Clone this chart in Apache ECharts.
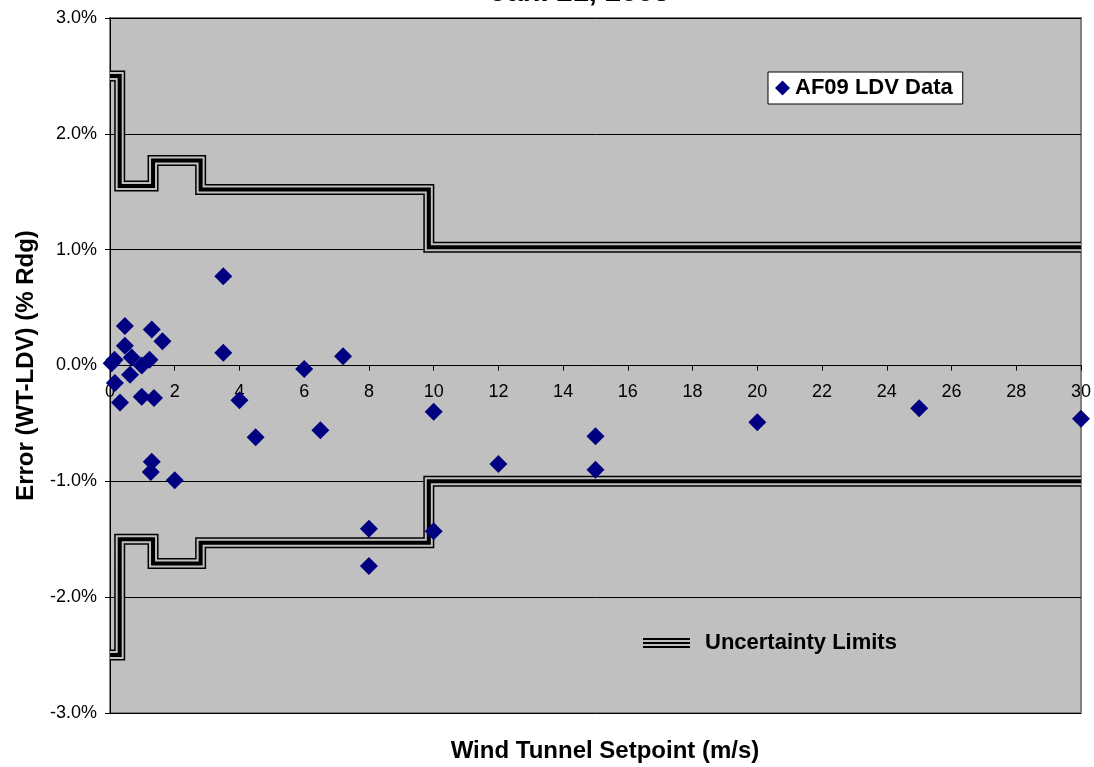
<!DOCTYPE html>
<html>
<head>
<meta charset="utf-8">
<script src="https://cdn.jsdelivr.net/npm/echarts@6/dist/echarts.min.js"></script>
<style>
  html, body { margin: 0; padding: 0; background: #fff; }
  #main { width: 1094px; height: 767px; }
</style>
</head>
<body>
<div id="main"></div>
<script>
// AF09 LDV data points: setpoint (m/s) and error (% reading)
var ldvX = [0.05, 0.14, 0.15, 0.31, 0.46, 0.46, 0.62, 0.67, 0.98, 0.98, 1.22, 1.29, 1.36, 1.62,
            1.29, 1.26, 2.0, 3.5, 3.5, 4.0, 4.5, 6.0, 6.5, 7.2, 8.0, 8.0,
            10.0, 10.0, 12.0, 15.0, 15.0, 20.0, 25.0, 30.0];
var ldvY = [0.02, 0.05, -0.15, -0.32, 0.34, 0.17, -0.08, 0.07, 0.00, -0.27, 0.05, 0.31, -0.28, 0.21,
            -0.83, -0.92, -0.99, 0.77, 0.11, -0.30, -0.62, -0.03, -0.56, 0.08, -1.41, -1.73,
            -0.40, -1.43, -0.85, -0.61, -0.90, -0.49, -0.37, -0.46];

// uncertainty limits (step corners)
var limX     = [0, 0.3, 0.3, 1.33, 1.33, 2.8, 2.8, 9.85, 9.85, 30];
var upperLim = [2.5, 2.5, 1.55, 1.55, 1.77, 1.77, 1.52, 1.52, 1.02, 1.02];
var lowerLim = [-2.5, -2.5, -1.5, -1.5, -1.71, -1.71, -1.53, -1.53, -1.0, -1.0];

var yTicks = [-3, -2, -1, 0, 1, 2, 3];

var font = 'Liberation Sans, Arial, sans-serif';
var plotH = 767 - 18 - 54;

function pairs(xs, ys) {
	var out = [];
	for (var i = 0; i < xs.length; i++) out.push([xs[i], ys[i]]);
	return out;
}

// compound "triple" line: wide black, grey gap, thick black core
var layers = [
	{ name: 'Uncertainty Limits', color: '#000', width: 11 },
	{ name: 'gap', color: '#c0c0c0', width: 8 },
	{ name: 'core', color: '#000', width: 4 }
];
var series = [];
[upperLim, lowerLim].forEach(function (lim) {
	layers.forEach(function (l, i) {
		series.push({
			name: l.name,
			type: 'line',
			data: pairs(limX, lim),
			symbol: 'none',
			silent: true,
			z: 2 + i,
			itemStyle: { color: l.color },
			lineStyle: { color: l.color, width: l.width, join: 'miter', cap: 'butt' }
		});
	});
});
series.push({
	name: 'AF09 LDV Data',
	type: 'scatter',
	data: pairs(ldvX, ldvY),
	symbol: 'diamond',
	symbolSize: 18,
	z: 10,
	itemStyle: { color: '#000080', opacity: 1 }
});

var myChart = echarts.init(document.getElementById('main'));
myChart.setOption({
	animation: false,
	backgroundColor: '#fff',
	title: [
		{
			text: 'Jan. 21, 2003',
			left: 575,
			top: -27,
			textAlign: 'center',
			textStyle: { fontFamily: font, fontSize: 29, fontWeight: 'bold', color: '#000' }
		},
		{
			text: 'Wind Tunnel Setpoint (m/s)',
			left: 600,
			top: 734,
			textAlign: 'center',
			textStyle: { fontFamily: font, fontSize: 24, fontWeight: 'bold', color: '#000' }
		}
	],
	grid: {
		left: 110,
		right: 13,
		top: 18,
		bottom: 54,
		outerBoundsMode: 'none',
		show: true,
		backgroundColor: '#c0c0c0',
		borderColor: '#808080',
		borderWidth: 2
	},
	legend: [
		{
			data: [{ name: 'AF09 LDV Data', icon: 'diamond' }],
			left: 768,
			top: 72,
			padding: [5, 10, 5, 7],
			backgroundColor: '#fff',
			borderColor: '#000',
			borderWidth: 1,
			itemWidth: 15,
			itemHeight: 15,
			itemStyle: { opacity: 1 },
			textStyle: { fontFamily: font, fontSize: 22, fontWeight: 'bold', color: '#000' }
		},
		{
			data: [{ name: 'Uncertainty Limits', icon: 'path://M0,0H47V2H0Z M0,4H47V6H0Z M0,8H47V10H0Z' }],
			left: 638,
			top: 627,
			itemWidth: 47,
			itemHeight: 10,
			itemStyle: { color: '#000', borderWidth: 0 },
			textStyle: { fontFamily: font, fontSize: 22, fontWeight: 'bold', color: '#000', padding: [0, 0, 0, 10] }
		}
	],
	xAxis: {
		type: 'value',
		min: 0,
		max: 30,
		interval: 2,
		// axis sits on the 0% line (middle of the symmetric y range)
		offset: -plotH / 2,
		axisLine: { onZero: false, lineStyle: { color: '#000', width: 1 } },
		axisTick: { show: true, length: 5, lineStyle: { color: '#000' } },
		axisLabel: { margin: 18, fontFamily: font, fontSize: 18, color: '#000' },
		splitLine: { show: false }
	},
	yAxis: {
		type: 'value',
		min: yTicks[0],
		max: yTicks[yTicks.length - 1],
		interval: 1,
		name: 'Error (WT-LDV) (% Rdg)',
		nameLocation: 'middle',
		nameGap: 72,
		nameTextStyle: { fontFamily: font, fontSize: 24, fontWeight: 'bold', color: '#000' },
		axisLine: { show: true, onZero: false, lineStyle: { color: '#000', width: 1 } },
		axisTick: { show: true, length: 5, lineStyle: { color: '#000' } },
		axisLabel: {
			margin: 13,
			fontFamily: font,
			fontSize: 18,
			color: '#000',
			formatter: function (v) { return v.toFixed(1) + '%'; }
		},
		splitLine: { show: true, lineStyle: { color: '#000', width: 1 } }
	},
	series: series
});
</script>
</body>
</html>
